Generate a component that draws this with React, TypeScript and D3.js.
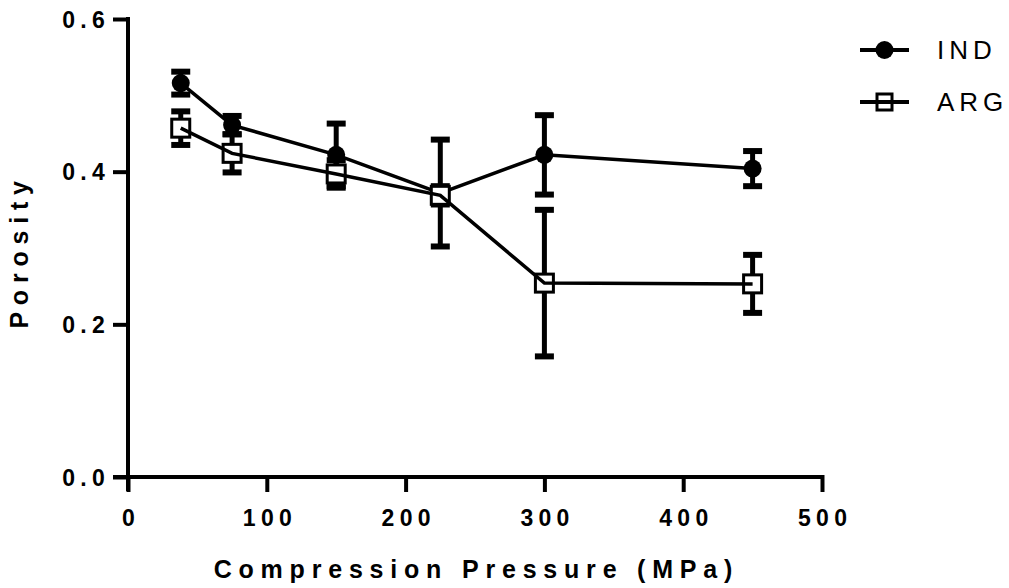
import React, { useEffect, useRef } from "react";
import * as d3 from "d3";

const WIDTH = 1009;
const HEIGHT = 588;
const MARGIN = { top: 19, right: 187, bottom: 111, left: 128 };

// compression pressure (MPa)
const pressure = [38, 75, 150, 225, 300, 450];

// porosity, mean and error
const indMean = [0.516, 0.461, 0.422, 0.372, 0.422, 0.404];
const indErr = [0.015, 0.012, 0.041, 0.07, 0.052, 0.023];
const argMean = [0.457, 0.424, 0.397, 0.369, 0.254, 0.253];
const argErr = [0.022, 0.025, 0.018, 0.012, 0.096, 0.038];

const xTicks = [0, 100, 200, 300, 400, 500];
const yTicks = [0, 0.2, 0.4, 0.6];

const FONT = "'Liberation Sans', Arial, sans-serif";
const TICK_LS = 5.3;
const TITLE_LS = 6.8;

export default function App() {
  const svgRef = useRef<SVGSVGElement | null>(null);

  useEffect(() => {
    document.body.style.margin = "0";
    const svg = d3.select(svgRef.current);
    svg.selectAll("*").remove();

    const w = WIDTH - MARGIN.left - MARGIN.right;
    const h = HEIGHT - MARGIN.top - MARGIN.bottom;

    const x = d3.scaleLinear().domain([0, 500]).range([0, w]);
    const y = d3.scaleLinear().domain([0, 0.6]).range([h, 0]);

    const g = svg
      .append("g")
      .attr("transform", `translate(${MARGIN.left},${MARGIN.top})`);

    // axes
    const yAxis = g
      .append("g")
      .call(d3.axisLeft(y).tickValues(yTicks).tickFormat(d3.format(".1f")).tickSize(13).tickPadding(5));
    yAxis.select(".domain").attr("d", `M0,0V${h + 12}`);
    const xAxis = g
      .append("g")
      .attr("transform", `translate(0,${h})`)
      .call(d3.axisBottom(x).tickValues(xTicks).tickSize(13).tickPadding(20));
    xAxis.select(".domain").attr("d", `M-13,0H${w}`);

    [yAxis, xAxis].forEach((a) => {
      a.selectAll(".domain, line")
        .attr("stroke", "#000")
        .attr("stroke-width", 4)
        .attr("stroke-linecap", "square");
      a.selectAll("text")
        .attr("fill", "#000")
        .style("font-family", FONT)
        .style("font-size", "23px")
        .style("font-weight", "bold")
        .style("letter-spacing", `${TICK_LS}px`);
    });
    yAxis.selectAll("text").attr("dy", "0.36em");
    xAxis.selectAll("text").attr("dx", TICK_LS / 2);

    g.append("text")
      .attr("transform", `translate(${-100},${y(0.3) + TITLE_LS / 2}) rotate(-90)`)
      .attr("text-anchor", "middle")
      .style("font-family", FONT)
      .style("font-size", "25px")
      .style("font-weight", "bold")
      .style("letter-spacing", `${TITLE_LS}px`)
      .text("Porosity");

    g.append("text")
      .attr("x", x(250) - 346 + TITLE_LS / 2 + 345 - 1)
      .attr("y", h + 101)
      .attr("text-anchor", "middle")
      .style("font-family", FONT)
      .style("font-size", "25px")
      .style("font-weight", "bold")
      .style("letter-spacing", `${TITLE_LS}px`)
      .text("Compression Pressure (MPa)");

    const series = [
      { name: "IND", mean: indMean, err: indErr, shape: "circle" },
      { name: "ARG", mean: argMean, err: argErr, shape: "square" },
    ];

    const line = d3.line<number>().x((_, i) => x(pressure[i])).y((d) => y(d));
    const capW = 19;

    // error bars first, markers and lines above them
    series.forEach((s) => {
      const eg = g.append("g");
      s.mean.forEach((m, i) => {
        const cx = x(pressure[i]);
        const top = y(m + s.err[i]);
        const bot = y(m - s.err[i]);
        eg.append("line")
          .attr("x1", cx).attr("x2", cx).attr("y1", top).attr("y2", bot)
          .attr("stroke", "#000").attr("stroke-width", 5);
        [top, bot].forEach((yy) =>
          eg.append("line")
            .attr("x1", cx - capW / 2).attr("x2", cx + capW / 2)
            .attr("y1", yy).attr("y2", yy)
            .attr("stroke", "#000").attr("stroke-width", 6),
        );
      });
    });

    series.forEach((s) => {
      const mg = g.append("g");
      s.mean.forEach((m, i) => {
        const cx = x(pressure[i]);
        const cy = y(m);
        if (s.shape === "circle") {
          mg.append("circle").attr("cx", cx).attr("cy", cy).attr("r", 9).attr("fill", "#000");
        } else {
          mg.append("rect")
            .attr("x", cx - 9).attr("y", cy - 9).attr("width", 18).attr("height", 18)
            .attr("fill", "#fff").attr("stroke", "#000").attr("stroke-width", 3);
        }
      });
      g.append("path")
        .attr("fill", "none")
        .attr("stroke", "#000")
        .attr("stroke-width", 3.5)
        .attr("d", line(s.mean)!);
    });

    // legend
    const lg = svg.append("g").attr("transform", "translate(860,50)");
    series.forEach((s, i) => {
      const row = lg.append("g").attr("transform", `translate(0,${i * 52})`);
      row.append("line").attr("x1", 0).attr("x2", 49).attr("y1", 0).attr("y2", 0)
        .attr("stroke", "#000").attr("stroke-width", 4);
      if (s.shape === "circle") {
        row.append("circle").attr("cx", 24.5).attr("cy", 0).attr("r", 9).attr("fill", "#000");
      } else {
        row.append("rect").attr("x", 17).attr("y", -8).attr("width", 15).attr("height", 16)
          .attr("fill", "none").attr("stroke", "#000").attr("stroke-width", 3);
      }
      row.append("text")
        .attr("x", 77)
        .attr("y", 0)
        .attr("dy", "0.36em")
        .style("font-family", FONT)
        .style("font-size", "26px")
        .style("letter-spacing", "5px")
        .text(s.name);
    });
  }, []);

  return <svg ref={svgRef} width={WIDTH} height={HEIGHT} style={{ display: "block" }} />;
}
